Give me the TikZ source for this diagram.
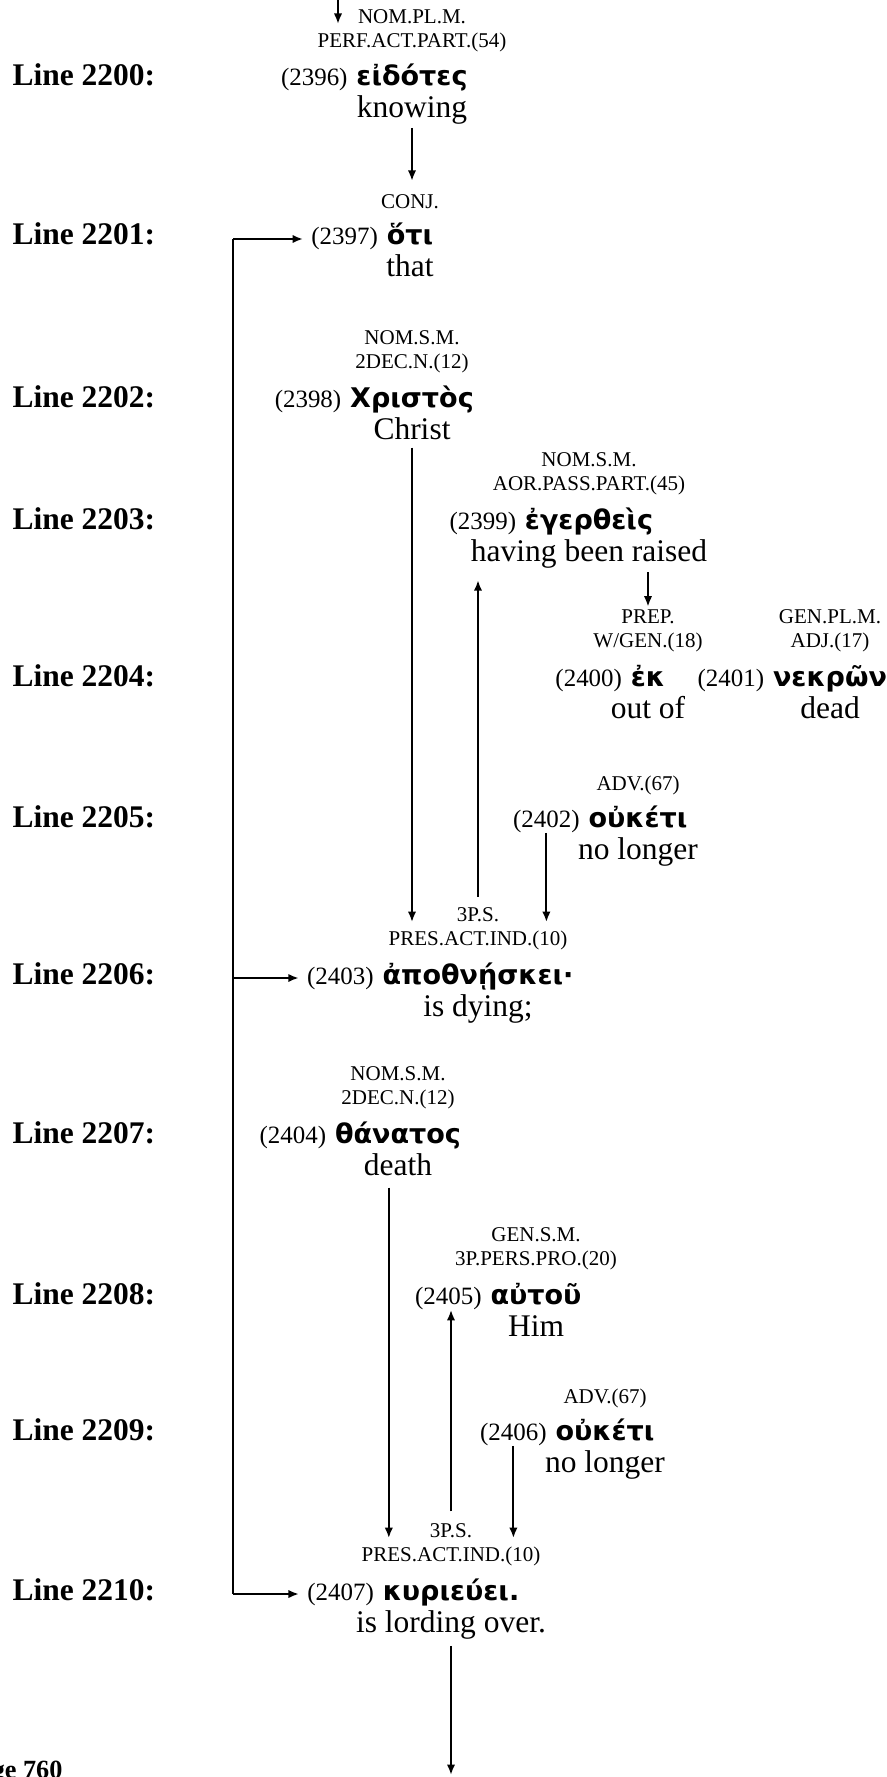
\documentclass[tikz,border=0pt]{standalone}
\usepackage{fontspec}
\setmainfont{Liberation Serif}
\newfontfamily\grkfont{DejaVu Sans}
\usetikzlibrary{arrows.meta}

\begin{document}
\begin{tikzpicture}[x=0.381pt,y=-0.381pt,
  lbl/.style={font=\bfseries\fontsize{12}{14}\selectfont,anchor=base west,inner sep=0pt},
  pg/.style={font=\bfseries\fontsize{10}{12}\selectfont,anchor=base east,inner sep=0pt},
  tag/.style={font=\fontsize{8}{9.1}\selectfont,align=center,anchor=south,inner sep=0pt,text depth=0pt},
  num/.style={font=\fontsize{9.5}{11}\selectfont,anchor=base east,inner sep=0pt},
  grk/.style={font=\grkfont\bfseries\fontsize{10.3}{12}\selectfont,anchor=base,inner sep=0pt},
  gls/.style={font=\fontsize{12}{14}\selectfont,anchor=base,inner sep=0pt},
  arr/.style={thick,-{Latex[length=4pt,width=3.2pt]}}]
\useasboundingbox (0,0) rectangle (887,1777);

\node[lbl] (l2200) at (12,86) {Line 2200:};
\node[lbl] (l2201) at (12,245) {Line 2201:};
\node[lbl] (l2202) at (12,407) {Line 2202:};
\node[lbl] (l2203) at (12,529) {Line 2203:};
\node[lbl] (l2204) at (12,686) {Line 2204:};
\node[lbl] (l2205) at (12,827) {Line 2205:};
\node[lbl] (l2206) at (12,984) {Line 2206:};
\node[lbl] (l2207) at (12,1143) {Line 2207:};
\node[lbl] (l2208) at (12,1304) {Line 2208:};
\node[lbl] (l2209) at (12,1440) {Line 2209:};
\node[lbl] (l2210) at (12,1600) {Line 2210:};
\node[pg] (page) at (63,1778) {Page 760};

\node[tag] (t2396) at (412,48) {NOM.PL.M.\\PERF.ACT.PART.(54)};
\node[grk] (g2396) at (412,86) {εἰδότες};
\node[num] (n2396) at ([xshift=-3pt]g2396.base west) {(2396)};
\node[gls] (e2396) at (412,118) {knowing};

\node[tag] (t2397) at (410,209) {CONJ.};
\node[grk] (g2397) at (410,245) {ὅτι};
\node[num] (n2397) at ([xshift=-3pt]g2397.base west) {(2397)};
\node[gls] (e2397) at (410,277) {that};

\node[tag] (t2398) at (412,369) {NOM.S.M.\\2DEC.N.(12)};
\node[grk] (g2398) at (412,407) {Χριστὸς};
\node[num] (n2398) at ([xshift=-3pt]g2398.base west) {(2398)};
\node[gls] (e2398) at (412,439) {Christ};

\node[tag] (t2399) at (589,491) {NOM.S.M.\\AOR.PASS.PART.(45)};
\node[grk] (g2399) at (589,529) {ἐγερθεὶς};
\node[num] (n2399) at ([xshift=-3pt]g2399.base west) {(2399)};
\node[gls] (e2399) at (589,561) {having been raised};

\node[tag] (t2400) at (648,648) {PREP.\\W/GEN.(18)};
\node[grk] (g2400) at (648,686) {ἐκ};
\node[num] (n2400) at ([xshift=-3pt]g2400.base west) {(2400)};
\node[gls] (e2400) at (648,718) {out of};

\node[tag] (t2401) at (830,648) {GEN.PL.M.\\ADJ.(17)};
\node[grk] (g2401) at (830,686) {νεκρῶν};
\node[num] (n2401) at ([xshift=-3pt]g2401.base west) {(2401)};
\node[gls] (e2401) at (830,718) {dead};

\node[tag] (t2402) at (638,791) {ADV.(67)};
\node[grk] (g2402) at (638,827) {οὐκέτι};
\node[num] (n2402) at ([xshift=-3pt]g2402.base west) {(2402)};
\node[gls] (e2402) at (638,859) {no longer};

\node[tag] (t2403) at (478,946) {3P.S.\\PRES.ACT.IND.(10)};
\node[grk] (g2403) at (478,984) {ἀποθνῄσκει·};
\node[num] (n2403) at ([xshift=-3pt]g2403.base west) {(2403)};
\node[gls] (e2403) at (478,1016) {is dying;};

\node[tag] (t2404) at (398,1105) {NOM.S.M.\\2DEC.N.(12)};
\node[grk] (g2404) at (398,1143) {θάνατος};
\node[num] (n2404) at ([xshift=-3pt]g2404.base west) {(2404)};
\node[gls] (e2404) at (398,1175) {death};

\node[tag] (t2405) at (536,1266) {GEN.S.M.\\3P.PERS.PRO.(20)};
\node[grk] (g2405) at (536,1304) {αὐτοῦ};
\node[num] (n2405) at ([xshift=-3pt]g2405.base west) {(2405)};
\node[gls] (e2405) at (536,1336) {Him};

\node[tag] (t2406) at (605,1404) {ADV.(67)};
\node[grk] (g2406) at (605,1440) {οὐκέτι};
\node[num] (n2406) at ([xshift=-3pt]g2406.base west) {(2406)};
\node[gls] (e2406) at (605,1472) {no longer};

\node[tag] (t2407) at (451,1562) {3P.S.\\PRES.ACT.IND.(10)};
\node[grk] (g2407) at (451,1600) {κυριεύει.};
\node[num] (n2407) at ([xshift=-3pt]g2407.base west) {(2407)};
\node[gls] (e2407) at (451,1632) {is lording over.};

\coordinate (in) at (338,0);
\coordinate (out) at (448,1775);
\coordinate (bar) at (233,0);
\coordinate (h2403) at ([yshift=-5.7pt]t2403.north);
\coordinate (h2407) at ([yshift=-5.7pt]t2407.north);
\coordinate (d2404) at ([xshift=-3.5pt]e2404.south);

\draw[arr] (in) -- ++(0,24);
\draw[arr,shorten <=1pt,shorten >=5pt] (e2396.south) -- (e2396.south |- t2397.north);
\draw[thick] (bar |- n2397) -- (bar |- n2407);
\draw[arr,shorten >=3pt] (bar |- n2397) -- (n2397);
\draw[arr,shorten >=3pt] (bar |- n2403) -- (n2403);
\draw[arr,shorten >=3pt] (bar |- n2407) -- (n2407);
\draw[arr,shorten <=3pt] (e2398.south) -- (e2398.south |- h2403);
\draw[arr,shorten <=1.5pt,shorten >=1pt] (t2400.north |- e2399.south) -- (t2400.north);
\draw[arr,shorten <=4pt,shorten >=4.5pt] (t2403.north) -- (t2403.north |- e2399.south);
\draw[arr] (n2402.south) -- (n2402.south |- h2403);
\draw[arr,shorten <=4.5pt] (d2404) -- (d2404 |- h2407);
\draw[arr,shorten <=4.5pt] (t2407.north) -- (t2407.north |- n2405.south);
\draw[arr] (n2406.south) -- (n2406.south |- h2407);
\draw[arr,shorten <=2.5pt] (e2407.south) -- (e2407.south |- out);
\end{tikzpicture}
\end{document}
